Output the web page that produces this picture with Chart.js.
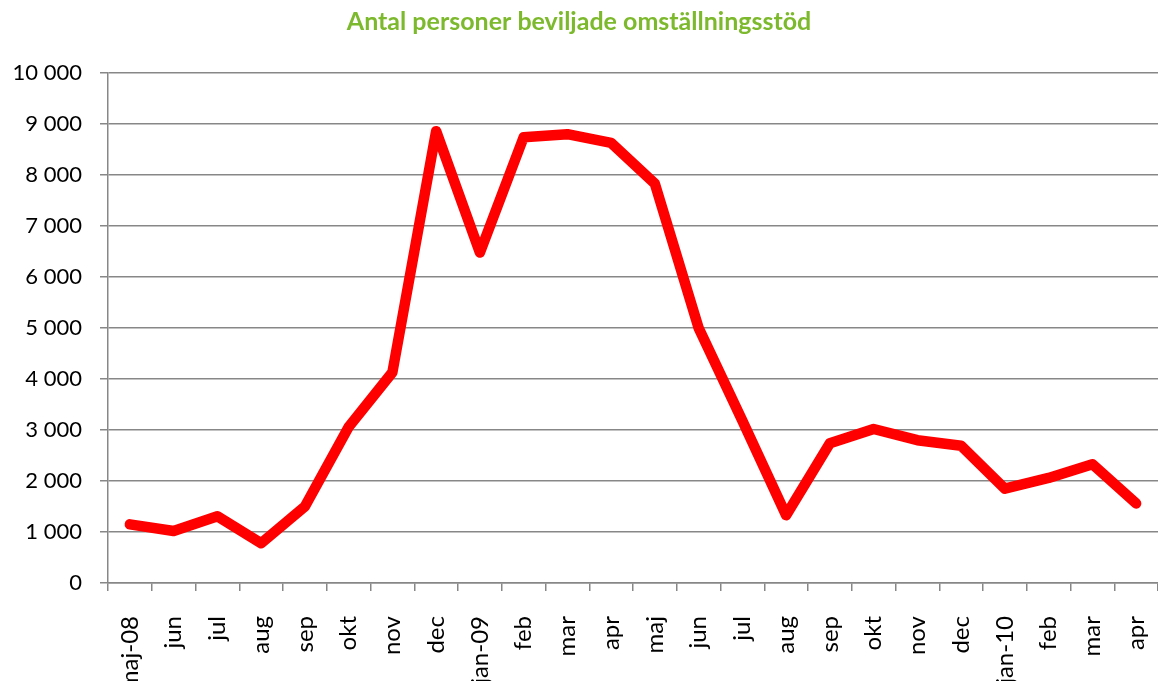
<!DOCTYPE html>
<html>
<head>
<meta charset="utf-8">
<script src="https://cdn.jsdelivr.net/npm/chart.js@4/dist/chart.umd.min.js"></script>
<style>
  html, body { margin: 0; padding: 0; background: #ffffff; }
  #wrap { width: 1158px; height: 681px; }
</style>
</head>
<body>
<div id="wrap"><canvas id="c" width="1158" height="681"></canvas></div>
<script>
const titleText = "Antal personer beviljade omställningsstöd";
const categories = ["maj-08","jun","jul","aug","sep","okt","nov","dec","jan-09","feb","mar","apr","maj","jun","jul","aug","sep","okt","nov","dec","jan-10","feb","mar","apr"];
const beviljade = [1150,1020,1310,780,1500,3060,4130,8860,6480,8740,8800,8630,7830,5000,3180,1330,2740,3020,2800,2690,1850,2060,2330,1560];
const yMin = 0, yMax = 10000, yStep = 1000;

const fontFamily = "Lato, 'Open Sans', sans-serif";
const gridColor = "#878787";

new Chart(document.getElementById("c"), {
  type: "line",
  data: {
    labels: categories,
    datasets: [{
      label: titleText,
      data: beviljade,
      borderColor: "#FF0000",
      backgroundColor: "#FF0000",
      borderWidth: 10.5,
      borderJoinStyle: "round",
      borderCapStyle: "round",
      pointRadius: 0,
      pointHoverRadius: 0,
      tension: 0,
      fill: false
    }]
  },
  options: {
    responsive: false,
    animation: false,
    devicePixelRatio: 1,
    layout: { padding: 0 },
    plugins: {
      legend: { display: false },
      tooltip: { enabled: false },
      title: {
        display: true,
        text: titleText,
        color: "#7DB92C",
        font: { family: fontFamily, size: 25, weight: "bold", lineHeight: 1.2 },
        padding: { top: 7, bottom: 36 }
      }
    },
    scales: {
      x: {
        type: "category",
        offset: true,
        grid: {
          offset: true,
          drawOnChartArea: false,
          drawTicks: true,
          tickLength: 8,
          color: gridColor,
          lineWidth: 1.5
        },
        border: { display: true, color: gridColor, width: 1.5 },
        ticks: {
          color: "#000000",
          font: { family: fontFamily, size: 24 },
          minRotation: 90,
          maxRotation: 90,
          padding: 25,
          autoSkip: false
        },
        afterFit: (s) => { s.height = 98; s.paddingLeft = 0; s.paddingRight = 0; }
      },
      y: {
        min: yMin,
        max: yMax,
        grid: {
          color: gridColor,
          lineWidth: 1.5,
          tickLength: 8,
          drawTicks: true
        },
        border: { display: true, color: gridColor, width: 1.5 },
        ticks: {
          stepSize: yStep,
          color: "#000000",
          font: { family: fontFamily, size: 22 },
          padding: 18,
          callback: (v) => String(v).replace(/\B(?=(\d{3})+(?!\d))/g, " ")
        },
        afterFit: (s) => { s.width = 108; }
      }
    }
  }
});
</script>
</body>
</html>
